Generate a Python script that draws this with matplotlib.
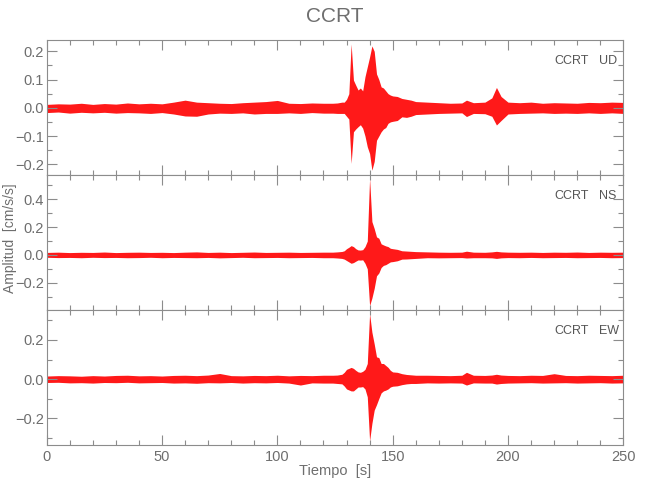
import matplotlib
matplotlib.use('Agg')
import matplotlib.pyplot as plt
from matplotlib.ticker import MultipleLocator, FuncFormatter

# time samples [s] at which the envelope of each trace was read
t = [0, 5, 10, 15, 20, 25, 30, 35, 40, 45, 50, 55, 60, 65, 70, 75, 80, 85, 90, 95,
     100, 105, 110, 115, 120, 124, 126, 128,
     129, 130, 131, 132, 133, 134, 135, 136, 137, 138, 139, 140, 141, 142, 143, 144,
     145, 146, 147, 148, 149, 150,
     152, 154, 156, 158, 160, 165, 170, 175, 180, 182, 185, 190, 193, 195, 197,
     200, 205, 210, 215, 220, 225, 230, 235, 240, 245, 250]

# UD component, upper / lower envelope [cm/s/s]
ud_hi = [0.012, 0.014, 0.013, 0.016, 0.012, 0.015, 0.013, 0.017, 0.014, 0.016,
         0.014, 0.020, 0.027, 0.020, 0.018, 0.016, 0.015, 0.018, 0.020, 0.022,
         0.026, 0.016, 0.015, 0.017, 0.016, 0.016, 0.017, 0.020,
         0.020, 0.030, 0.050, 0.226, 0.098, 0.080, 0.063, 0.070, 0.060, 0.110,
         0.145, 0.180, 0.219, 0.200, 0.120, 0.100, 0.074, 0.070, 0.060, 0.050,
         0.045, 0.042,
         0.040, 0.033, 0.030, 0.027, 0.022, 0.020, 0.018, 0.016, 0.017, 0.027,
         0.018, 0.020, 0.035, 0.072, 0.040,
         0.020, 0.018, 0.020, 0.016, 0.018, 0.017, 0.016, 0.019, 0.018, 0.020, 0.019]
ud_lo = [-0.017, -0.015, -0.019, -0.016, -0.018, -0.016, -0.019, -0.017, -0.018, -0.020,
         -0.017, -0.022, -0.029, -0.030, -0.022, -0.019, -0.020, -0.018, -0.022, -0.020,
         -0.020, -0.018, -0.020, -0.017, -0.019, -0.019, -0.020, -0.020,
         -0.020, -0.030, -0.040, -0.197, -0.085, -0.075, -0.067, -0.060, -0.072, -0.100,
         -0.138, -0.162, -0.221, -0.190, -0.115, -0.100, -0.085, -0.075, -0.070, -0.055,
         -0.050, -0.048,
         -0.045, -0.032, -0.034, -0.030, -0.024, -0.022, -0.020, -0.019, -0.018, -0.031,
         -0.020, -0.021, -0.030, -0.061, -0.045,
         -0.022, -0.020, -0.019, -0.018, -0.020, -0.019, -0.020, -0.018, -0.020, -0.018, -0.020]

# NS component
ns_hi = [0.018, 0.020, 0.017, 0.019, 0.018, 0.021, 0.017, 0.019, 0.020, 0.018,
         0.019, 0.017, 0.020, 0.022, 0.018, 0.020, 0.017, 0.019, 0.021, 0.018,
         0.019, 0.020, 0.018, 0.019, 0.020, 0.020, 0.022, 0.025,
         0.030, 0.045, 0.055, 0.067, 0.060, 0.045, 0.036, 0.035, 0.038, 0.060,
         0.100, 0.552, 0.240, 0.190, 0.130, 0.120, 0.080, 0.072, 0.065, 0.060,
         0.048, 0.045,
         0.040, 0.030, 0.028, 0.026, 0.024, 0.022, 0.020, 0.019, 0.020, 0.027,
         0.020, 0.019, 0.022, 0.026, 0.022,
         0.020, 0.019, 0.020, 0.018, 0.020, 0.019, 0.021, 0.018, 0.020, 0.019, 0.020]
ns_lo = [-0.017, -0.019, -0.018, -0.020, -0.017, -0.019, -0.018, -0.020, -0.019, -0.017,
         -0.020, -0.018, -0.019, -0.020, -0.018, -0.021, -0.019, -0.017, -0.020, -0.019,
         -0.018, -0.020, -0.019, -0.018, -0.020, -0.020, -0.022, -0.025,
         -0.030, -0.040, -0.050, -0.060, -0.055, -0.045, -0.036, -0.037, -0.035, -0.060,
         -0.100, -0.365, -0.310, -0.240, -0.150, -0.130, -0.090, -0.075, -0.070, -0.060,
         -0.050, -0.048,
         -0.042, -0.030, -0.029, -0.027, -0.025, -0.020, -0.021, -0.020, -0.019, -0.022,
         -0.020, -0.020, -0.021, -0.025, -0.021,
         -0.019, -0.020, -0.018, -0.020, -0.019, -0.018, -0.020, -0.019, -0.018, -0.020, -0.019]

# EW component
ew_hi = [0.016, 0.018, 0.017, 0.015, 0.018, 0.016, 0.019, 0.020, 0.017, 0.018,
         0.016, 0.019, 0.020, 0.018, 0.021, 0.029, 0.018, 0.017, 0.019, 0.018,
         0.020, 0.017, 0.019, 0.018, 0.020, 0.020, 0.021, 0.025,
         0.035, 0.050, 0.055, 0.060, 0.055, 0.045, 0.037, 0.035, 0.040, 0.050,
         0.080, 0.335, 0.240, 0.180, 0.114, 0.110, 0.080, 0.080, 0.070, 0.060,
         0.045, 0.037,
         0.035, 0.028, 0.024, 0.022, 0.020, 0.020, 0.019, 0.018, 0.020, 0.035,
         0.020, 0.019, 0.021, 0.025, 0.021,
         0.019, 0.018, 0.020, 0.019, 0.028, 0.019, 0.018, 0.020, 0.019, 0.018, 0.020]
ew_lo = [-0.017, -0.016, -0.019, -0.018, -0.020, -0.017, -0.018, -0.016, -0.019, -0.018,
         -0.017, -0.020, -0.019, -0.021, -0.018, -0.019, -0.017, -0.020, -0.018, -0.019,
         -0.017, -0.020, -0.030, -0.019, -0.020, -0.020, -0.022, -0.024,
         -0.035, -0.050, -0.055, -0.060, -0.060, -0.050, -0.040, -0.040, -0.038, -0.050,
         -0.090, -0.315, -0.226, -0.158, -0.130, -0.099, -0.070, -0.060, -0.056, -0.050,
         -0.040, -0.036,
         -0.034, -0.028, -0.024, -0.022, -0.022, -0.019, -0.020, -0.019, -0.020, -0.030,
         -0.019, -0.020, -0.020, -0.025, -0.022,
         -0.020, -0.019, -0.018, -0.020, -0.019, -0.018, -0.020, -0.019, -0.018, -0.020, -0.019]

station = 'CCRT'
components = ['UD', 'NS', 'EW']
traces = [(ud_hi, ud_lo), (ns_hi, ns_lo), (ew_hi, ew_lo)]
ylims = [(-0.238, 0.24), (-0.396, 0.575), (-0.336, 0.353)]
ymajor = [0.1, 0.2, 0.2]
yminor = [0.05, 0.1, 0.1]

gray = '#8c8c8c'
txt = '#6e6e6e'
plt.rcParams['font.family'] = ['Liberation Sans Narrow', 'Liberation Sans', 'DejaVu Sans']


def fmt(v, pos):
    return f'{v:.1f}'.replace('-', '\u2212')


fig = plt.figure(figsize=(6.5, 5), dpi=100)
left, width = 46.7 / 650, (623.3 - 46.7) / 650
tops = [40, 175, 310]
h = 135

for i, comp in enumerate(components):
    ax = fig.add_axes([left, 1 - (tops[i] + h) / 500, width, h / 500])
    hi, lo = traces[i]
    ax.fill_between(t, lo, hi, color='red', linewidth=0, alpha=0.9)
    ax.set_xlim(0, 250)
    ax.set_ylim(*ylims[i])
    ax.xaxis.set_major_locator(MultipleLocator(50))
    ax.xaxis.set_minor_locator(MultipleLocator(10))
    ax.yaxis.set_major_locator(MultipleLocator(ymajor[i]))
    ax.yaxis.set_minor_locator(MultipleLocator(yminor[i]))
    ax.yaxis.set_major_formatter(FuncFormatter(fmt))
    ax.tick_params(which='both', direction='in', top=True, right=True, color=gray,
                   labelcolor=txt, labelsize=10.5, width=0.8)
    ax.tick_params(which='major', length=7)
    ax.tick_params(which='minor', length=3.6)
    ax.tick_params(axis='y', pad=2)
    if i < 2:
        ax.tick_params(labelbottom=False)
    for s in ax.spines.values():
        s.set_color(gray)
        s.set_linewidth(0.8)
    ax.text(0.94, 0.848, station, transform=ax.transAxes, ha='right', va='center',
            fontsize=9, color='#555555')
    ax.text(0.958, 0.848, comp, transform=ax.transAxes, ha='left', va='center',
            fontsize=9, color='#555555')

fig.text(335 / 650, 1 - 17 / 500, station, ha='center', va='center', fontsize=15, color=txt)
fig.text(335 / 650, 1 - 471 / 500, 'Tiempo  [s]', ha='center', va='center', fontsize=10.5, color=txt)
fig.text(10 / 650, 1 - 238 / 500, 'Amplitud  [cm/s/s]', rotation=90, ha='center', va='center',
         fontsize=10, color=txt)

fig.savefig('out.png', dpi=100)
